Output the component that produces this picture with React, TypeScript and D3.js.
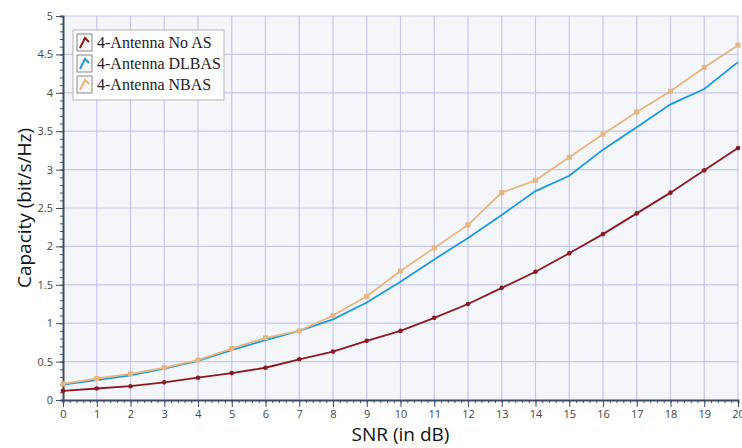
import React, { useEffect, useRef } from "react";
import * as d3 from "d3";

const snr = [0, 1, 2, 3, 4, 5, 6, 7, 8, 9, 10, 11, 12, 13, 14, 15, 16, 17, 18, 19, 20];
const noAS = [0.12, 0.15, 0.18, 0.23, 0.29, 0.35, 0.42, 0.53, 0.63, 0.77, 0.9, 1.07, 1.25, 1.46, 1.67, 1.91, 2.16, 2.43, 2.7, 2.99, 3.28];
const dlbas = [0.2, 0.26, 0.32, 0.41, 0.51, 0.65, 0.78, 0.9, 1.05, 1.27, 1.54, 1.83, 2.11, 2.41, 2.72, 2.92, 3.26, 3.55, 3.85, 4.05, 4.4];
const nbas = [0.21, 0.28, 0.34, 0.42, 0.52, 0.67, 0.81, 0.9, 1.1, 1.35, 1.68, 1.98, 2.28, 2.7, 2.86, 3.16, 3.46, 3.75, 4.02, 4.33, 4.62];
const yTicks = [0, 0.5, 1, 1.5, 2, 2.5, 3, 3.5, 4, 4.5, 5];

const seriesList = [
  { name: "4-Antenna No AS", values: noAS, color: "#8b1a1f", marker: "dot" },
  { name: "4-Antenna DLBAS", values: dlbas, color: "#1a9ae0", marker: "none" },
  { name: "4-Antenna NBAS", values: nbas, color: "#e6b67f", marker: "square" },
];

export default function App() {
  const svgRef = useRef<SVGSVGElement>(null);
  const width = 742;
  const height = 448;
  const margin = { left: 63, right: 4, top: 16, bottom: 48 };

  useEffect(() => {
    const svg = d3.select(svgRef.current);
    svg.selectAll("*").remove();
    const x = d3.scaleLinear().domain([0, 20]).range([margin.left, width - margin.right]);
    const y = d3.scaleLinear().domain([0, 5]).range([height - margin.bottom, margin.top]);

    //plot background
    svg
      .append("rect")
      .attr("x", margin.left)
      .attr("y", margin.top)
      .attr("width", width - margin.right - margin.left)
      .attr("height", height - margin.bottom - margin.top)
      .attr("fill", "#f4f6fa");

    //grid
    const grid = svg.append("g").attr("stroke", "#c6c6ef").attr("stroke-width", 1.2);
    grid
      .selectAll("line.v")
      .data(snr.slice(1))
      .join("line")
      .attr("x1", (d) => x(d))
      .attr("x2", (d) => x(d))
      .attr("y1", y(0))
      .attr("y2", y(5));
    grid
      .selectAll("line.h")
      .data(yTicks.slice(1))
      .join("line")
      .attr("x1", x(0))
      .attr("x2", x(20))
      .attr("y1", (d) => y(d))
      .attr("y2", (d) => y(d));

    //axes
    const font = "'Open Sans', 'Noto Sans', sans-serif";
    const xAxis = svg
      .append("g")
      .attr("transform", `translate(0,${y(0)})`)
      .call(d3.axisBottom(x).tickValues(d3.range(0, 20.01, 0.2)).tickSize(3).tickFormat(() => ""));
    xAxis
      .append("g")
      .call(d3.axisBottom(x).tickValues(snr).tickSize(7).tickPadding(3).tickFormat(d3.format("d")));
    const yAxis = svg
      .append("g")
      .attr("transform", `translate(${x(0)},0)`)
      .call(d3.axisLeft(y).tickValues(d3.range(0, 5.001, 0.1)).tickSize(3).tickFormat(() => ""));
    yAxis
      .append("g")
      .call(d3.axisLeft(y).tickValues(yTicks).tickSize(7).tickPadding(3).tickFormat((d) => `${d}`));
    [xAxis, yAxis].forEach((a) => {
      a.selectAll("path.domain").attr("stroke", "#3d4b66").attr("stroke-width", 2);
      a.selectAll("line").attr("stroke", "#3d4b66");
      a.selectAll("text").attr("fill", "#444").attr("font-size", 11).attr("font-family", font);
    });
    xAxis.selectAll("path.domain").filter((d, i, n) => (n[i] as Element).parentNode !== xAxis.node()).remove();
    yAxis.selectAll("path.domain").filter((d, i, n) => (n[i] as Element).parentNode !== yAxis.node()).remove();

    //lines
    seriesList.forEach((s) => {
      const line = d3
        .line<number>()
        .x((d, i) => x(snr[i]))
        .y((d) => y(d));
      svg
        .append("path")
        .datum(s.values)
        .attr("fill", "none")
        .attr("stroke", s.color)
        .attr("stroke-width", 1.8)
        .attr("d", line);
      if (s.marker === "dot") {
        svg
          .append("g")
          .selectAll("circle")
          .data(s.values)
          .join("circle")
          .attr("cx", (d, i) => x(snr[i]))
          .attr("cy", (d) => y(d))
          .attr("r", 2.3)
          .attr("fill", s.color);
      } else if (s.marker === "square") {
        svg
          .append("g")
          .selectAll("rect")
          .data(s.values)
          .join("rect")
          .attr("x", (d, i) => x(snr[i]) - 2.5)
          .attr("y", (d) => y(d) - 2.5)
          .attr("width", 5)
          .attr("height", 5)
          .attr("fill", s.color);
      }
    });

    //legend
    const legend = svg.append("g").attr("transform", "translate(73,30)");
    legend
      .append("rect")
      .attr("width", 151)
      .attr("height", 70)
      .attr("fill", "white")
      .attr("stroke", "#b4b4b4");
    seriesList.forEach((s, i) => {
      const row = legend.append("g").attr("transform", `translate(4,${4 + i * 21})`);
      row
        .append("rect")
        .attr("width", 15)
        .attr("height", 17)
        .attr("fill", "#f7f7f7")
        .attr("stroke", "#8a8a8a");
      row
        .append("path")
        .attr("d", "M3,14 L8,4 L12,8")
        .attr("fill", "none")
        .attr("stroke", s.color)
        .attr("stroke-width", 2);
      row
        .append("text")
        .attr("x", 20)
        .attr("y", 14)
        .attr("font-family", "'Liberation Serif', serif")
        .attr("font-size", 16)
        .attr("fill", "#222")
        .text(s.name);
    });

    //axis titles
    svg
      .append("text")
      .attr("x", (x(0) + x(20)) / 2)
      .attr("y", 441)
      .attr("text-anchor", "middle")
      .attr("font-family", font)
      .attr("font-size", 19)
      .attr("font-weight", 500)
      .attr("fill", "#111")
      .text("SNR (in dB)");
    svg
      .append("text")
      .attr("transform", `translate(31,${(y(0) + y(5)) / 2}) rotate(-90)`)
      .attr("text-anchor", "middle")
      .attr("font-family", font)
      .attr("font-size", 19)
      .attr("font-weight", 500)
      .attr("fill", "#111")
      .text("Capacity (bit/s/Hz)");
  }, []);

  return (
    <svg
      ref={svgRef}
      width={width}
      height={height}
      style={{ position: "absolute", left: 0, top: 0, background: "white" }}
    ></svg>
  );
}
